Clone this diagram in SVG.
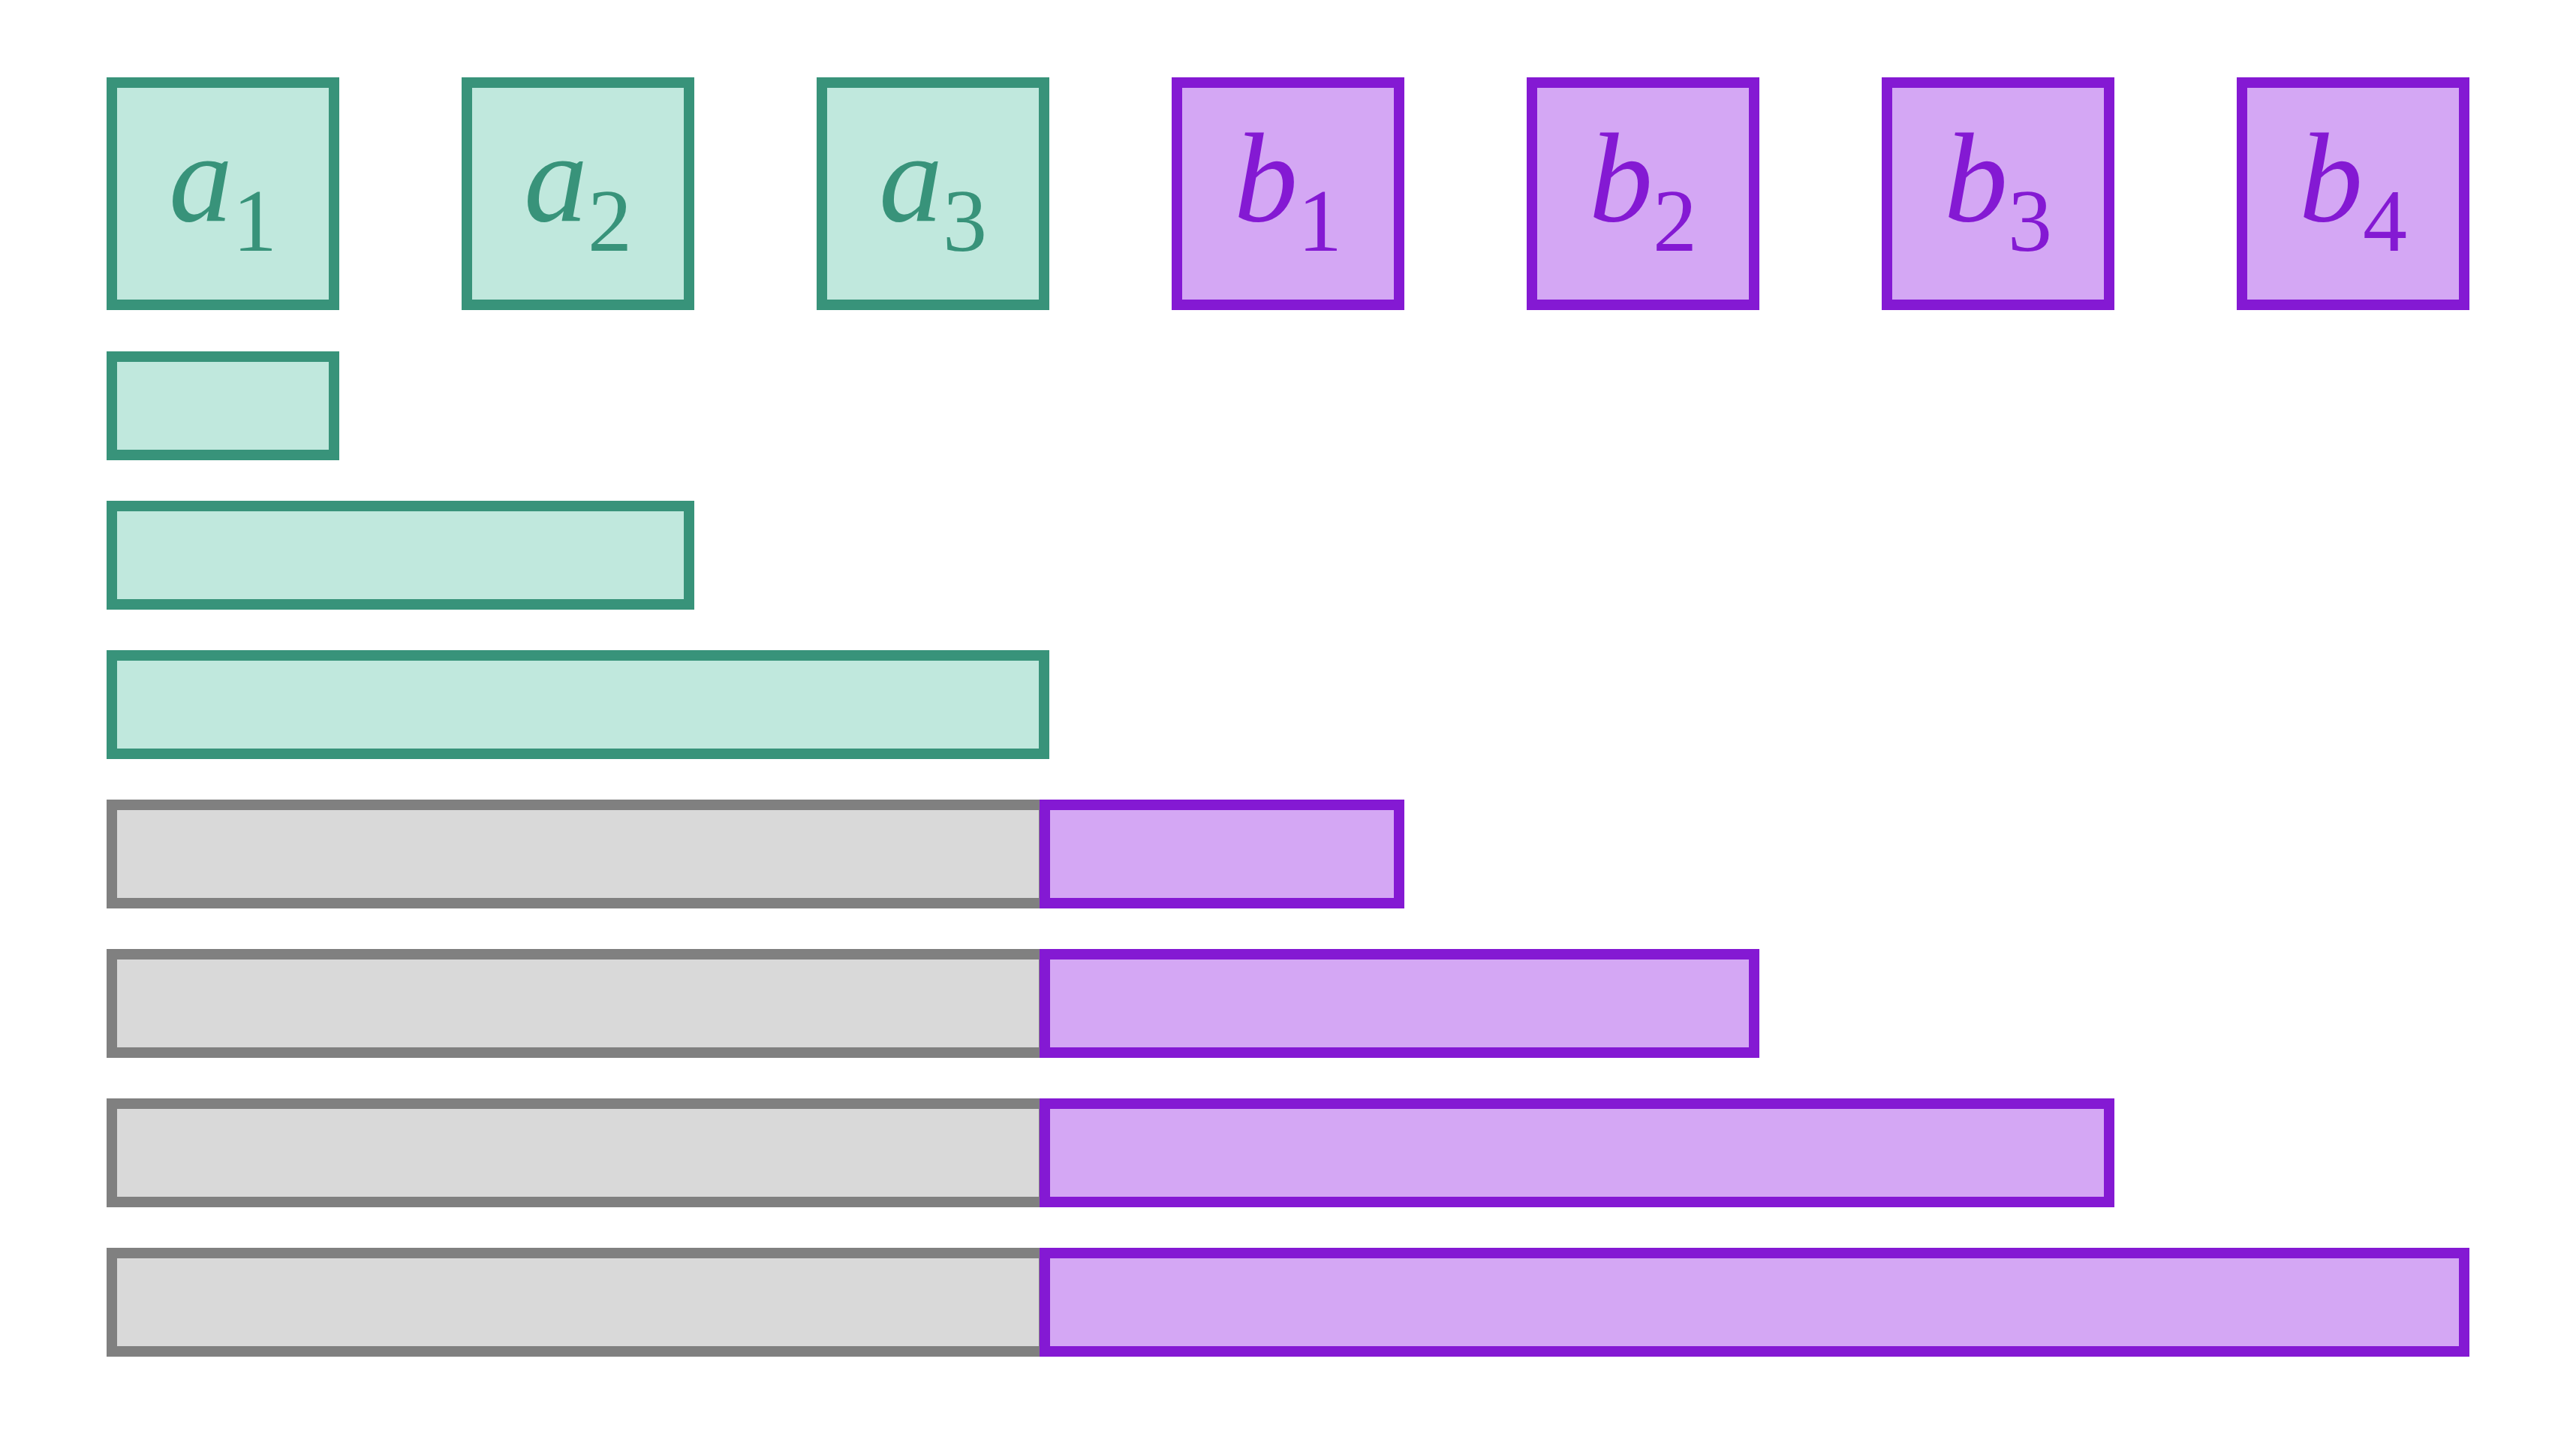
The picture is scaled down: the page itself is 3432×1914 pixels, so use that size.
<svg xmlns="http://www.w3.org/2000/svg" width="3432" height="1914" viewBox="0 0 3432 1914">
<style>
.g{fill:#C0E8DD;stroke:#38937A;stroke-width:14}
.p{fill:#D4A7F4;stroke:#8419D3;stroke-width:14}
.k{fill:#D9D9D9;stroke:#808080;stroke-width:14}
.tg{fill:#38937A}.tp{fill:#8419D3}
text{font-family:"Liberation Serif","DejaVu Serif",serif;font-style:italic;font-size:170px;text-anchor:middle}
.s{font-style:normal;font-size:118px}
</style>
<rect width="3432" height="1914" fill="#fff"/>
<g id="a1"><rect class="g" x="149" y="110" width="296" height="296"/><text class="tg" x="297" y="294">a<tspan class="s" dy="40">1</tspan></text></g>
<g id="a2"><rect class="g" x="622" y="110" width="296" height="296"/><text class="tg" x="770" y="294">a<tspan class="s" dy="40">2</tspan></text></g>
<g id="a3"><rect class="g" x="1095" y="110" width="296" height="296"/><text class="tg" x="1243" y="294">a<tspan class="s" dy="40">3</tspan></text></g>
<g id="b1"><rect class="p" x="1568" y="110" width="296" height="296"/><text class="tp" x="1716" y="294">b<tspan class="s" dy="40">1</tspan></text></g>
<g id="b2"><rect class="p" x="2041" y="110" width="296" height="296"/><text class="tp" x="2189" y="294">b<tspan class="s" dy="40">2</tspan></text></g>
<g id="b3"><rect class="p" x="2514" y="110" width="296" height="296"/><text class="tp" x="2662" y="294">b<tspan class="s" dy="40">3</tspan></text></g>
<g id="b4"><rect class="p" x="2987" y="110" width="296" height="296"/><text class="tp" x="3135" y="294">b<tspan class="s" dy="40">4</tspan></text></g>
<g id="bars">
<rect class="g" x="149" y="475" width="296" height="131"/>
<rect class="g" x="149" y="674" width="769" height="131"/>
<rect class="g" x="149" y="873" width="1242" height="131"/>
<rect class="k" x="149" y="1072" width="1242" height="131"/><rect class="p" x="1392" y="1072" width="472" height="131"/>
<rect class="k" x="149" y="1271" width="1242" height="131"/><rect class="p" x="1392" y="1271" width="945" height="131"/>
<rect class="k" x="149" y="1470" width="1242" height="131"/><rect class="p" x="1392" y="1470" width="1418" height="131"/>
<rect class="k" x="149" y="1669" width="1242" height="131"/><rect class="p" x="1392" y="1669" width="1891" height="131"/>
</g>
</svg>
